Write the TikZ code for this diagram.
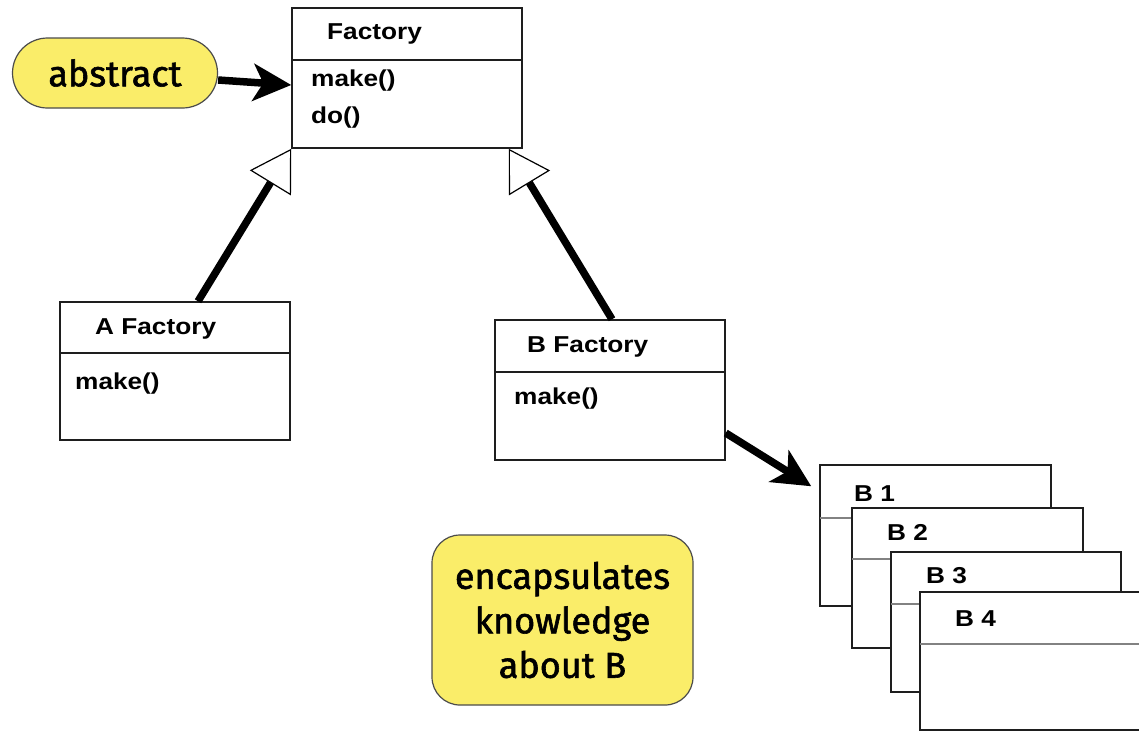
\documentclass[tikz,border=0pt]{standalone}
\usepackage{fontspec}
\setmainfont{Liberation Sans}
\newfontfamily\classfont{Liberation Sans}[FakeStretch=1.14]
\newfontfamily\notefont{Fira Sans}[FakeBold=1.6]
\usetikzlibrary{arrows.meta}
\definecolor{noteyellow}{RGB}{250,237,105}
\definecolor{edge}{RGB}{30,30,30}
\definecolor{rule}{RGB}{130,130,130}
\tikzset{
  classbox/.style={draw=edge, line width=1.5pt, fill=white, inner sep=0pt},
  classtext/.style={font=\classfont\fontsize{23}{27}\selectfont\bfseries, inner sep=0pt, anchor=base west},
  divider/.style={draw=edge, line width=1.5pt},
  softdivider/.style={draw=rule, line width=1.5pt},
  note/.style={draw=edge!80, line width=1.2pt, fill=noteyellow, inner sep=0pt,
    font=\notefont\fontsize{36}{44.5}\selectfont, align=center},
  fatarrow/.style={draw=black, line width=7.5pt, -{Stealth[length=38pt,width=37pt,inset=10pt]}},
  inherits/.style={draw=black, line width=7.5pt,
    -{Triangle[length=40pt,width=48pt,fill=white,line width=1.2pt]}}
}
\begin{document}
\begin{tikzpicture}[x=1pt,y=-1pt]
\useasboundingbox (0,0) rectangle (1139,732);
\clip (0,0) rectangle (1139,732);

% abstract factory class
\node[classbox, minimum width=230pt, minimum height=140pt] (factory) at (407,78) {};
\draw[divider] (292,60) -- (522,60);
\node[classtext] (factoryname) at (327,39) {Factory};
\node[classtext] (factorymake) at (311,86) {make()};
\node[classtext] (factorydo) at (311,123) {do()};

% concrete factories
\node[classbox, minimum width=230pt, minimum height=138pt] (afac) at (175,371) {};
\draw[divider] (60,353) -- (290,353);
\node[classtext] (afacname) at (95,334) {A Factory};
\node[classtext] (afacmake) at (75,389) {make()};

\node[classbox, minimum width=230pt, minimum height=140pt] (bfac) at (610,390) {};
\draw[divider] (495,372) -- (725,372);
\node[classtext] (bfacname) at (527,352) {B Factory};
\node[classtext] (bfacmake) at (514,404) {make()};

% products B1..B4, stacked
\node[classbox, minimum width=231pt, minimum height=141pt] (b1) at (935.5,535.5) {};
\draw[softdivider] (820,518) -- (1051,518);
\node[classtext] (b1name) at (854,501) {B 1};

\node[classbox, minimum width=231pt, minimum height=140pt] (b2) at (967.5,578) {};
\draw[softdivider] (852,559) -- (1083,559);
\node[classtext] (b2name) at (887,540) {B 2};

\node[classbox, minimum width=230pt, minimum height=140pt] (b3) at (1006,622) {};
\draw[softdivider] (891,604) -- (1121,604);
\node[classtext] (b3name) at (926,583) {B 3};

\node[classbox, minimum width=231pt, minimum height=138pt] (b4) at (1035.5,661) {};
\draw[softdivider] (920,644) -- (1151,644);
\node[classtext] (b4name) at (955,626) {B 4};

% notes
\node[note, minimum width=205pt, minimum height=70pt, rounded corners=35pt] (abstract) at (115,73) {abstract};
\node[note, minimum width=261pt, minimum height=170pt, rounded corners=28pt] (encaps) at (562.5,620)
  {encapsulates\\knowledge\\about B};

% connectors
\draw[fatarrow] ([yshift=-7pt]abstract.east) -- ([yshift=-7pt]factory.west);
\draw[inherits] ([xshift=23pt]afac.north) -- (factory.south west);
\draw[inherits] ([xshift=2pt]bfac.north) -- ([xshift=-14pt]factory.south east);
\draw[fatarrow] ([yshift=-43pt]bfac.east) -- ([xshift=-8pt,yshift=-22pt]b1.north west);
\end{tikzpicture}
\end{document}
